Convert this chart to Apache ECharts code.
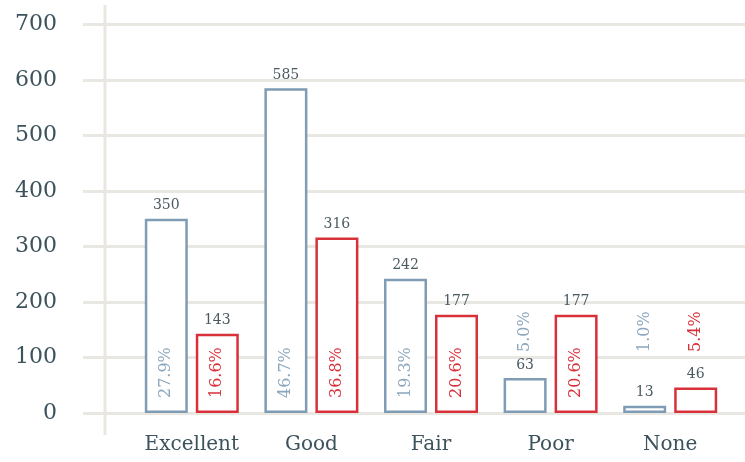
<!DOCTYPE html>
<html>
<head>
<meta charset="utf-8">
<script src="https://cdn.jsdelivr.net/npm/echarts@6/dist/echarts.min.js"></script>
<style>
  html, body { margin: 0; padding: 0; background: #ffffff; }
  #chart { width: 745px; height: 462px; }
</style>
</head>
<body>
<div id="chart"></div>
<script>
// Response categories
const categories = ['Excellent', 'Good', 'Fair', 'Poor', 'None'];
// Counts per group
const blueCounts = [350, 585, 242, 63, 13];
const redCounts = [143, 316, 177, 177, 46];
// Share of each group, in percent
const bluePct = [27.9, 46.7, 19.3, 5.0, 1.0];
const redPct = [16.6, 36.8, 20.6, 20.6, 5.4];
// Value axis ticks
const yMin = 0, yMax = 700, yStep = 100;

const BLUE = '#7f9cb4';
const BLUE_TEXT = '#8ba6bd';
const RED = '#d7313a';
const GRID = '#e9e7e1';
const TEXT = '#3c525c';
const FONT = '"DejaVu Serif", Georgia, serif';
const BAR_W = 43;
const BAR_GAP = 0.186;

const chart = echarts.init(document.getElementById('chart'));

// Rotated percentage labels: inside the bar foot when the bar is tall enough,
// otherwise floated above the short bar.
function pctRenderer(pcts, side, color) {
  return function (params, api) {
    const idx = api.value(0);
    const val = api.value(1);
    const base = api.coord([idx, 0]);
    const top = api.coord([idx, val]);
    const x = base[0] + side * BAR_W * (1 + BAR_GAP) / 2;
    const tall = base[1] - top[1] >= 70;
    const y = tall ? base[1] - 15 : base[1] - 61;
    return {
      type: 'text',
      x: x,
      y: y,
      rotation: Math.PI / 2,
      style: {
        text: pcts[idx].toFixed(1) + '%',
        fill: color,
        font: '16px ' + FONT,
        align: 'left',
        verticalAlign: 'middle'
      }
    };
  };
}

const countLabel = {
  show: true,
  position: 'top',
  distance: 6,
  color: '#4a5a62',
  fontFamily: FONT,
  fontSize: 14
};

chart.setOption({
  animation: false,
  backgroundColor: '#ffffff',
  grid: { left: 132, right: 15, top: 24.5, bottom: 49 },
  xAxis: {
    type: 'category',
    data: categories,
    axisLine: { show: false },
    axisTick: { show: false },
    axisLabel: { interval: 0, color: TEXT, fontFamily: FONT, fontSize: 20, margin: 22 }
  },
  yAxis: [
    {
      type: 'value',
      min: yMin, max: yMax, interval: yStep,
      axisLine: { show: false },
      axisTick: { show: true, length: 49, lineStyle: { color: GRID, width: 3 } },
      splitLine: { show: true, lineStyle: { color: GRID, width: 3 } },
      axisLabel: { color: TEXT, fontFamily: FONT, fontSize: 22, margin: 75 }
    },
    {
      type: 'value',
      position: 'right',
      min: yMin, max: yMax, interval: yStep,
      axisLine: { show: false },
      axisTick: { show: true, length: 15, lineStyle: { color: GRID, width: 3 } },
      splitLine: { show: false },
      axisLabel: { show: false }
    }
  ],
  graphic: [
    {
      type: 'line',
      z: 0,
      shape: { x1: 105, y1: 5, x2: 105, y2: 435 },
      style: { stroke: GRID, lineWidth: 3 }
    }
  ],
  series: [
    {
      type: 'bar',
      data: blueCounts,
      barWidth: BAR_W,
      barGap: (BAR_GAP * 100) + '%',
      itemStyle: { color: '#ffffff', borderColor: BLUE, borderWidth: 2.5 },
      label: countLabel
    },
    {
      type: 'bar',
      data: redCounts,
      barWidth: BAR_W,
      barGap: (BAR_GAP * 100) + '%',
      itemStyle: { color: '#ffffff', borderColor: RED, borderWidth: 2.5 },
      label: countLabel
    },
    {
      type: 'custom',
      data: blueCounts.map((v, i) => [i, v]),
      renderItem: pctRenderer(bluePct, -1, BLUE_TEXT),
      z: 5
    },
    {
      type: 'custom',
      data: redCounts.map((v, i) => [i, v]),
      renderItem: pctRenderer(redPct, 1, RED),
      z: 5
    }
  ]
});
</script>
</body>
</html>
